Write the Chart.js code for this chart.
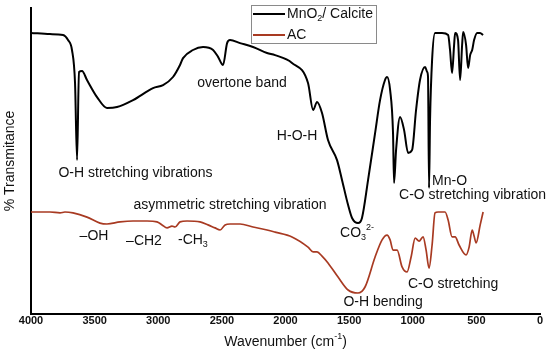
<!DOCTYPE html>
<html><head><meta charset="utf-8">
<script src="https://cdn.jsdelivr.net/npm/chart.js@4.4.1/dist/chart.umd.min.js"></script>
<style>html,body{margin:0;padding:0;background:#fff}#wrap{width:550px;height:353px}</style>
</head><body><div id="wrap"><canvas id="c" width="550" height="353"></canvas></div>
<script>
// ---- data (wavenumber cm-1, transmittance arbitrary units) ----
const wavenumbersA = [4000,3851,3748,3709,3678,3654,3638,3623,3599,3560,3481,3403,3324,3198,3041,2962,2884,2829,2805,2727,2648,2569,2530,2491,2459,2436,2357,2255,2145,2082,1949,1823,1783,1752,1713,1666,1595,1556,1508,1477,1430,1399,1351,1296,1257,1218,1202,1178,1155,1147,1131,1100,1068,1037,1005,974,943,903,887,880,872,864,848,825,770,722,707,691,675,667,644,628,612,604,581,565,549,533,518,494,471,447];
const mno2Calcite = [93.7,93.3,93.0,91.3,88.0,77.0,51.3,80.7,81.0,78.0,72.3,68.7,69.0,71.3,75.3,76.3,79.0,83.0,85.3,88.0,89.0,88.0,85.7,83.0,90.3,91.3,90.3,89.0,87.0,86.3,83.7,77.0,68.0,70.7,67.0,58.0,51.3,44.7,36.3,32.0,30.3,32.0,44.7,60.3,71.3,78.0,79.0,74.7,60.3,43.7,54.7,65.7,61.3,53.7,54.7,68.0,78.0,82.3,80.7,79.0,42.0,64.7,84.7,93.7,93.7,93.0,88.0,80.3,89.7,93.7,91.3,78.0,89.7,94.0,89.7,82.0,86.3,88.0,91.3,93.7,93.7,93.0];
const wavenumbersB = [4000,3851,3772,3733,3670,3560,3458,3403,3300,3198,3088,3010,2970,2931,2892,2868,2829,2774,2672,2609,2554,2514,2475,2436,2357,2255,2145,2082,1949,1823,1783,1752,1713,1666,1587,1508,1430,1375,1296,1241,1202,1178,1155,1123,1084,1045,1013,981,950,919,895,872,848,825,801,746,722,691,667,636,581,557,533,518,502,470,447];
const acValues = [34.0,34.0,33.7,34.0,33.7,32.3,30.3,30.0,30.7,31.0,31.0,30.7,29.7,28.7,29.3,29.0,30.7,31.0,30.7,29.7,28.7,28.0,29.7,30.0,30.0,29.0,28.0,27.3,25.7,22.3,20.7,20.7,19.3,17.0,12.3,8.0,7.0,9.0,19.0,24.7,26.3,24.7,21.3,21.3,15.7,14.0,19.0,25.3,24.3,25.7,21.3,15.3,23.0,33.7,34.0,34.0,31.3,25.7,25.7,23.0,19.7,22.3,28.0,26.0,23.7,29.7,34.0];
const xTicks = [4000,3500,3000,2500,2000,1500,1000,500,0];
const seriesLabels = ['MnO_{2}/ Calcite','AC'];
const seriesColors = ['#000000','#a83a22'];
const xTitle = 'Wavenumber (cm^{-1})';
const yTitle = '% Transmitance';
// annotations: text, wavenumber, value, alignment
const annotTexts = ['O-H stretching vibrations','overtone band','H-O-H','Mn-O','C-O stretching vibration','asymmetric stretching vibration','CO_{3}^{2-}','\u2013OH','\u2013CH2','-CH_{3}','C-O stretching','O-H bending'];
const annotWn    = [3179,2342,1909,848,530,2436,1571,3505,3112,2845,683,1233];
const annotVal   = [47,77,59.3,44.3,39.7,36.3,27,26,24.3,24.7,10,4];
const annotAlign = ['center','center','center','left','center','center','left','center','center','left','center','center'];

// ---- rich text helper ----
const FONT = '"Liberation Sans", Arial, sans-serif';
function parseRich(s){
  const segs=[];let i=0,buf='';
  while(i<s.length){
    if((s[i]==='_'||s[i]==='^')&&s[i+1]==='{'){
      if(buf){segs.push({t:buf,m:0});buf='';}
      const j=s.indexOf('}',i);
      segs.push({t:s.slice(i+2,j),m:s[i]==='_'?-1:1});
      i=j+1;
    } else {buf+=s[i];i++;}
  }
  if(buf)segs.push({t:buf,m:0});
  return segs;
}
function drawRich(ctx,s,x,y,size,align,color){
  const segs=parseRich(s);
  const small=Math.round(size*0.65);
  let w=0;
  segs.forEach(g=>{ctx.font=(g.m?small:size)+'px '+FONT;g.w=ctx.measureText(g.t).width;w+=g.w;});
  let cx = align==='center'? x-w/2 : (align==='right'? x-w : x);
  ctx.fillStyle=color||'#000';
  ctx.textBaseline='middle';ctx.textAlign='left';
  segs.forEach(g=>{
    ctx.font=(g.m?small:size)+'px '+FONT;
    const dy = g.m===-1? size*0.35 : (g.m===1? -size*0.4 : 0);
    ctx.fillText(g.t,cx,y+dy);
    cx+=g.w;
  });
}

const annotPlugin = {
  id:'annot',
  afterDatasetsDraw(chart){
    const ctx=chart.ctx, xs=chart.scales.x, ys=chart.scales.y;
    ctx.save();
    annotTexts.forEach((t,i)=>{
      drawRich(ctx,t,xs.getPixelForValue(annotWn[i]),ys.getPixelForValue(annotVal[i]),14,annotAlign[i],'#111');
    });
    // x axis title
    const ca=chart.chartArea;
    drawRich(ctx,xTitle,(ca.left+ca.right)/2,342,14,'center','#111');
    // legend
    ctx.fillStyle='#fff';
    ctx.fillRect(251.5,5.5,125,38);
    ctx.strokeStyle='#8a8a8a';ctx.lineWidth=1;
    ctx.strokeRect(251.5,5.5,125,38);
    seriesLabels.forEach((lab,i)=>{
      const yy = 14 + i*21;
      ctx.strokeStyle=seriesColors[i];ctx.lineWidth=2;
      ctx.beginPath();ctx.moveTo(253,yy);ctx.lineTo(285,yy);ctx.stroke();
      drawRich(ctx,lab,287,yy,14,'left','#111');
    });
    ctx.restore();
  }
};

new Chart(document.getElementById('c'),{
  type:'line',
  data:{datasets:[
    {label:seriesLabels[0],data:wavenumbersA.map((w,i)=>({x:w,y:mno2Calcite[i]})),borderColor:seriesColors[0],borderWidth:2,pointRadius:0,cubicInterpolationMode:'monotone',fill:false},
    {label:seriesLabels[1],data:wavenumbersB.map((w,i)=>({x:w,y:acValues[i]})),borderColor:seriesColors[1],borderWidth:1.7,pointRadius:0,cubicInterpolationMode:'monotone',fill:false}
  ]},
  options:{
    responsive:false,animation:false,devicePixelRatio:1,
    layout:{padding:{top:8,right:10,left:0,bottom:0}},
    plugins:{legend:{display:false},tooltip:{enabled:false}},
    scales:{
      x:{type:'linear',min:0,max:4000,reverse:true,
        afterBuildTicks(s){s.ticks=xTicks.map(v=>({value:v}));},
        afterFit(s){s.height=39;},
        grid:{display:false,drawTicks:false},
        border:{display:true,color:'#000',width:2},
        ticks:{padding:0,maxRotation:0,autoSkip:false,color:'#111',font:{family:FONT,size:11,weight:'bold'},callback:v=>String(v)},
        title:{display:false}
      },
      y:{min:0,max:102,
        afterFit(s){s.width=31;},
        grid:{display:false,drawTicks:false},
        border:{display:true,color:'#000',width:2},
        ticks:{display:false},
        title:{display:true,text:yTitle,color:'#111',font:{family:FONT,size:14},padding:{top:1.5,bottom:0}}
      }
    }
  },
  plugins:[annotPlugin]
});
</script></body></html>
